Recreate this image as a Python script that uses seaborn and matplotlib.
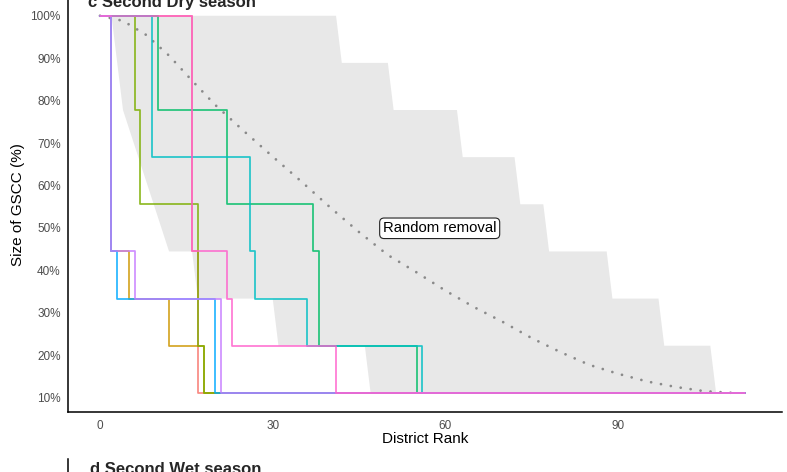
import matplotlib
matplotlib.use("Agg")
import matplotlib.pyplot as plt
from matplotlib.ticker import FuncFormatter
import numpy as np
import pandas as pd
import seaborn as sns

# ---- data -------------------------------------------------------------
GSCC_TOTAL = 9  # districts in the initial giant strongly connected component

# Targeted removal orders: rank at which the GSCC shrinks, and its size (districts) from there on
order_names = ["Order 1", "Order 2", "Order 3", "Order 4",
               "Order 5", "Order 6", "Order 7", "Order 8"]
order_ranks = [
    [0, 16, 17, 112],
    [0, 2, 5, 12, 18, 112],
    [0, 6, 7, 17, 18, 112],
    [0, 10, 22, 37, 38, 55, 112],
    [0, 9, 26, 27, 36, 56, 112],
    [0, 2, 3, 20, 112],
    [0, 2, 6, 21, 112],
    [0, 16, 22, 23, 41, 112],
]
order_sizes = [
    [9, 4, 1, 1],
    [9, 4, 3, 2, 1, 1],
    [9, 7, 5, 2, 1, 1],
    [9, 7, 5, 4, 2, 1, 1],
    [9, 6, 4, 3, 2, 1, 1],
    [9, 4, 3, 1, 1],
    [9, 4, 3, 1, 1],
    [9, 4, 3, 2, 1, 1],
]
order_colors = ["#F8766D", "#CD9600", "#7CAE00", "#00BE67",
                "#00BFC4", "#00A9FF", "#C77CFF", "#FF61CC"]

# Random removal: mean GSCC size (%) by district rank
random_rank = [0, 4, 8, 12, 16, 20, 25, 30, 35, 40, 45, 50, 55, 60,
               65, 70, 75, 80, 85, 90, 95, 100, 105, 110]
random_mean = [100, 98.8, 95.5, 90.6, 84.7, 79.0, 72.8, 66.8, 60.9, 54.8,
               49.0, 43.6, 39.5, 35.2, 31.3, 27.8, 24.0, 20.7, 17.7, 15.6,
               13.8, 12.5, 11.5, 11.1]

# Random removal envelope (districts): upper and lower bounds by rank
band_upper_rank = [0, 41, 42, 50, 51, 62, 63, 72, 73, 77, 78, 88, 89, 97, 98, 106, 107, 112]
band_upper_size = [9, 9, 8, 8, 7, 7, 6, 6, 5, 5, 4, 4, 3, 3, 2, 2, 1, 1]
band_lower_rank = [0, 2, 4, 12, 16, 17, 30, 31, 46, 47, 112]
band_lower_size = [9, 9, 7, 4, 4, 3, 3, 2, 2, 1, 1]

# ---- long-form table for the step lines --------------------------------
rows = []
for name, ranks, sizes in zip(order_names, order_ranks, order_sizes):
    for r, s in zip(ranks, sizes):
        rows.append({"order": name, "rank": r, "size": 100.0 * s / GSCC_TOTAL})
steps = pd.DataFrame(rows)
palette = dict(zip(order_names, order_colors))

# ---- figure -------------------------------------------------------------
sns.set_style("white")
plt.rcParams["font.family"] = ["Liberation Sans", "DejaVu Sans"]

W, H = 787, 472
fig = plt.figure(figsize=(W / 100, H / 100), dpi=100)
ax_left, ax_right = 68.3, 781.7
ax_bottom, ax_top = 411.7, -3.1
ax = fig.add_axes([ax_left / W, 1 - ax_bottom / H,
                   (ax_right - ax_left) / W, (ax_bottom - ax_top) / H])

# envelope of random removal
poly_x = band_upper_rank + band_lower_rank[::-1]
poly_y = [100.0 * s / GSCC_TOTAL for s in band_upper_size] + \
         [100.0 * s / GSCC_TOTAL for s in band_lower_size[::-1]]
ax.fill(poly_x, poly_y, color="#E8E8E8", lw=0, zorder=1)

# mean curve of random removal
sns.lineplot(x=random_rank, y=random_mean, color="#8A8A8A", lw=2.0,
             linestyle=(0, (0.01, 3.6)), dash_capstyle="round",
             estimator=None, sort=False, ax=ax, zorder=2)

# targeted removal orders
sns.lineplot(data=steps, x="rank", y="size", hue="order", palette=palette,
             hue_order=order_names, estimator=None, sort=False,
             drawstyle="steps-post", lw=1.25, alpha=0.85, legend=False,
             ax=ax, zorder=3)

ax.text(59, 49.9, "Random removal", ha="center", va="center", fontsize=10.7,
        color="black", zorder=5,
        bbox=dict(boxstyle="round,pad=0.22,rounding_size=0.3", fc="white",
                  ec="#222222", lw=0.8))

ax.set_xlim(-5.5, 118.4)
ax.set_ylim(100 * 1 / GSCC_TOTAL - 4.444, 104.444)
ax.set_xticks([0, 30, 60, 90])
ax.set_yticks(np.arange(10, 101, 10))
ax.yaxis.set_major_formatter(FuncFormatter(lambda v, p: f"{v:.0f}%"))

for side in ("top", "right"):
    ax.spines[side].set_visible(False)
for side in ("left", "bottom"):
    ax.spines[side].set_color("black")
    ax.spines[side].set_linewidth(1.1)
ax.tick_params(axis="both", which="major", length=3.3, width=0.8,
               color="#333333", labelcolor="#4D4D4D", labelsize=8.5)
ax.tick_params(axis="x", pad=2.4)
ax.tick_params(axis="y", pad=2.2)

ax.set_xlabel("District Rank", fontsize=11, color="black", va="top")
ax.set_ylabel("Size of GSCC (%)", fontsize=11, color="black")
ax.xaxis.set_label_coords(0.5, -0.049)
ax.yaxis.set_label_coords(-0.0607, 0.5)

fig.text(88.3 / W, 1 - 6.5 / H, "c Second Dry season", fontsize=12,
         fontweight="bold", va="baseline", ha="left")

# top of the next panel
ax2 = fig.add_axes([ax_left / W, -0.5, (ax_right - ax_left) / W, 0.5 + 1 - 459.3 / H])
for side in ("top", "right", "bottom"):
    ax2.spines[side].set_visible(False)
ax2.spines["left"].set_color("black")
ax2.spines["left"].set_linewidth(1.1)
ax2.set_xticks([])
ax2.set_yticks([])
ax2.patch.set_alpha(0)
fig.text(90 / W, 1 - 474 / H, "d Second Wet season", fontsize=12,
         fontweight="bold", va="baseline", ha="left")

fig.savefig("out.png", dpi=100)
